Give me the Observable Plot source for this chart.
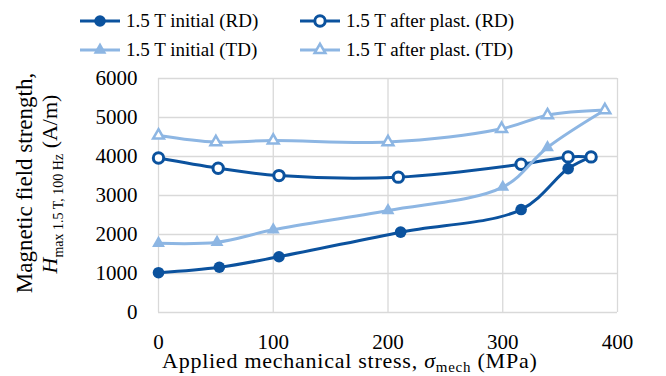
<!DOCTYPE html>
<html><head><meta charset="utf-8">
<script src="https://cdn.jsdelivr.net/npm/d3@7"></script>
<script src="https://cdn.jsdelivr.net/npm/@observablehq/plot@0.6"></script>
<style>
body{margin:0;background:#fff;font-family:'Liberation Serif',serif;color:#000;}
#legend{position:relative;width:666px;height:62px;}
.item{position:absolute;display:flex;align-items:center;font-size:19px;height:24px;}
.item span{margin-left:5px;white-space:nowrap;}
</style></head><body>
<div id="legend"></div><div id="chart"></div>
<script>
// ---- data ----
const seriesNames = ["1.5 T initial (RD)", "1.5 T after plast. (RD)", "1.5 T initial (TD)", "1.5 T after plast. (TD)"];
const stressInitialRD = [0, 53, 105, 211, 316, 357, 377];
const hInitialRD      = [1020, 1160, 1430, 2060, 2640, 3690, 3990];
const stressAfterRD   = [0, 52, 105, 209, 316, 357, 377];
const hAfterRD        = [3960, 3700, 3510, 3470, 3800, 3990, 3990];
const stressInitialTD = [0, 51, 100, 200, 300, 339, 389];
const hInitialTD      = [1775, 1800, 2120, 2615, 3215, 4230, 5190];
const stressAfterTD   = [0, 50, 100, 200, 299, 339, 389];
const hAfterTD        = [4540, 4370, 4410, 4370, 4710, 5060, 5190];
const xTicks = [0, 100, 200, 300, 400];
const yTicks = [0, 1000, 2000, 3000, 4000, 5000, 6000];

const FONT = "'Liberation Serif', serif";
const dark = "#0B529E", light = "#8DB6E3";
const styles = [
  {color: dark, symbol: "circle", fill: dark, stroke: "none", r: 5.8, sw: 0},
  {color: dark, symbol: "circle", fill: "white", stroke: dark, r: 5.2, sw: 3},
  {color: light, symbol: "triangle", fill: light, stroke: "none", r: 4.8, sw: 0},
  {color: light, symbol: "triangle", fill: "white", stroke: light, r: 4, sw: 2.5}
];
const xs = [stressInitialRD, stressAfterRD, stressInitialTD, stressAfterTD];
const ys = [hInitialRD, hAfterRD, hInitialTD, hAfterTD];
const series = seriesNames.map((name, i) => xs[i].map((x, j) => ({name, x, y: ys[i][j]})));

// ---- legend ----
const legend = document.getElementById("legend");
const legendPos = [[79, 9], [299, 9], [79, 38], [299, 38]];
seriesNames.forEach((name, i) => {
  const s = styles[i];
  const div = document.createElement("div");
  div.className = "item";
  div.style.left = legendPos[i][0] + "px";
  div.style.top = legendPos[i][1] + "px";
  const size = Math.PI * s.r * s.r;
  const sym = s.symbol === "circle" ? d3.symbolCircle : d3.symbolTriangle;
  const path = d3.symbol(sym, size)();
  div.innerHTML = `<svg width="42" height="24"><line x1="1" x2="41" y1="12" y2="12" stroke="${s.color}" stroke-width="3"/>` +
    `<path transform="translate(21,12)" d="${path}" fill="${s.fill}" stroke="${s.stroke}" stroke-width="${s.sw}"/></svg><span>${name}</span>`;
  legend.appendChild(div);
});

// ---- chart ----
const marks = [
  Plot.gridX(xTicks, {stroke: "#d9d9d9", strokeOpacity: 1, strokeWidth: 1.3}),
  Plot.gridY(yTicks, {stroke: "#d9d9d9", strokeOpacity: 1, strokeWidth: 1.3}),
  Plot.axisX(xTicks, {tickSize: 0, tickPadding: 22, fontSize: 21, fontFamily: FONT, label: null, tickFormat: d => String(d)}),
  Plot.axisY(yTicks, {tickSize: 0, tickPadding: 21, fontSize: 21, fontFamily: FONT, label: null, tickFormat: d => String(d)}),
];
series.forEach((data, i) => {
  const s = styles[i];
  marks.push(Plot.line(data, {x: "x", y: "y", stroke: s.color, strokeWidth: 3, curve: "catmull-rom"}));
  marks.push(Plot.dot(data, {x: "x", y: "y", symbol: s.symbol, r: s.r, fill: s.fill, stroke: s.stroke, strokeWidth: s.sw}));
});
marks.push(
  Plot.text(["XLABEL"], {frameAnchor: "bottom-left", textAnchor: "start", lineAnchor: "middle", dx: 3.5, dy: 48, fontSize: 22, fontFamily: FONT}),
  Plot.text(["Magnetic field strength,"], {frameAnchor: "left", rotate: -90, textAnchor: "middle", lineAnchor: "middle", dx: -133.7, dy: -12.5, fontSize: 23, fontFamily: FONT}),
  Plot.text(["YLABEL2"], {frameAnchor: "left", rotate: -90, textAnchor: "middle", lineAnchor: "middle", dx: -108.3, dy: -11.5, fontSize: 22, fontFamily: FONT})
);

const chart = Plot.plot({
  width: 666, height: 314,
  marginTop: 16, marginBottom: 64, marginLeft: 158, marginRight: 49,
  style: {fontFamily: FONT, color: "#000", background: "white"},
  x: {domain: [0, 400]},
  y: {domain: [0, 6000]},
  marks
});
chart.querySelectorAll("text").forEach(t => {
  if (t.textContent === "XLABEL") {
    t.setAttribute("letter-spacing", "0.75");
    t.innerHTML = 'Applied mechanical stress, <tspan font-style="italic">σ</tspan><tspan font-size="15" dy="4">mech</tspan><tspan dy="-4"> (MPa)</tspan>';
  } else if (t.textContent === "YLABEL2") {
    t.innerHTML = '<tspan font-style="italic">H</tspan><tspan font-size="14" dy="6">max 1.5 T, 100 Hz</tspan><tspan dy="-6"> (A/m)</tspan>';
  }
});
document.getElementById("chart").appendChild(chart);
</script>
</body></html>
